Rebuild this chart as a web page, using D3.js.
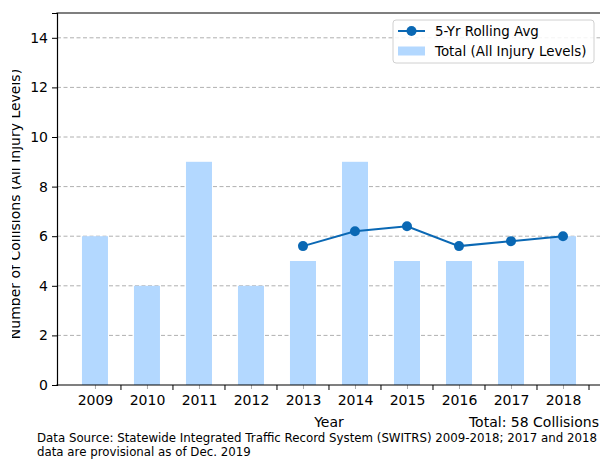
<!DOCTYPE html>
<html><head><meta charset="utf-8">
<script src="https://cdn.jsdelivr.net/npm/d3@7"></script>
<style>body{margin:0;background:#fff}svg{display:block;font-family:"DejaVu Sans",sans-serif}</style>
</head><body>
<svg id="c" width="600" height="460"></svg>
<script>
const years = ["2009","2010","2011","2012","2013","2014","2015","2016","2017","2018"];
const totals = [6,4,9,4,5,9,5,5,5,6];
const avgYears = ["2013","2014","2015","2016","2017","2018"];
const rollingAvg = [5.6,6.2,6.4,5.6,5.8,6.0];
const yTicks = [0,2,4,6,8,10,12,14];

const svg = d3.select("#c");
const barColor = "#b3d8ff", lineColor = "#0a68b4";
const x = d3.scaleLinear().domain([-0.73, 9.5]).range([57, 589]);
const y = d3.scaleLinear().domain([0, 15]).range([385, 13]);
const idx = s => years.indexOf(s);
const bw = x(0.25) - x(-0.25);

// grid
svg.append("g").selectAll("line").data(yTicks.filter(d => d > 0)).join("line")
  .attr("x1", 57).attr("x2", 620).attr("y1", d => y(d)).attr("y2", d => y(d))
  .attr("stroke", "#b0b0b0").attr("stroke-width", 1).attr("stroke-dasharray", "4,2.5");

// bars
svg.append("g").selectAll("rect").data(totals).join("rect")
  .attr("x", (d, i) => x(i) - bw / 2).attr("width", bw)
  .attr("y", d => y(d)).attr("height", d => y(0) - y(d))
  .attr("fill", barColor);

// line
const line = d3.line().x((d, i) => x(idx(avgYears[i]))).y(d => y(d));
svg.append("path").datum(rollingAvg).attr("d", line)
  .attr("fill", "none").attr("stroke", lineColor).attr("stroke-width", 2);
svg.append("g").selectAll("circle").data(rollingAvg).join("circle")
  .attr("cx", (d, i) => x(idx(avgYears[i]))).attr("cy", d => y(d)).attr("r", 5)
  .attr("fill", lineColor);

// y axis
const yAxis = svg.append("g").attr("transform", "translate(57,0)")
  .call(d3.axisLeft(y).tickValues(yTicks).tickSize(5).tickPadding(4));
yAxis.select(".domain").attr("stroke", "#000").attr("stroke-width", 1.2);
yAxis.selectAll("text").attr("font-size", 14).attr("fill", "#000").attr("font-family", "DejaVu Sans");
yAxis.selectAll(".tick line").attr("stroke", "#000");

// x axis: light ticks at centers with labels
const xAxis = svg.append("g").attr("transform", "translate(0,385)")
  .call(d3.axisBottom(x).tickValues(d3.range(years.length)).tickFormat(i => years[i]).tickSize(4).tickPadding(6));
xAxis.select(".domain").remove();
xAxis.selectAll(".tick line").attr("stroke", "#aaaaaa");
xAxis.selectAll("text").attr("font-size", 14).attr("fill", "#000").attr("font-family", "DejaVu Sans");
// black ticks at band boundaries
svg.append("g").selectAll("line").data(d3.range(years.length)).join("line")
  .attr("x1", i => x(i + 0.5)).attr("x2", i => x(i + 0.5)).attr("y1", 385).attr("y2", 390)
  .attr("stroke", "#000").attr("stroke-width", 1);

// spines
svg.append("line").attr("x1", 56.4).attr("x2", 620).attr("y1", 385).attr("y2", 385).attr("stroke", "#000").attr("stroke-width", 1.2);
svg.append("line").attr("x1", 56.4).attr("x2", 620).attr("y1", 13).attr("y2", 13).attr("stroke", "#000").attr("stroke-width", 1.2);

// y label (clipped at left)
svg.append("clipPath").attr("id", "yl").append("rect").attr("x", 12).attr("y", 0).attr("width", 30).attr("height", 460);
svg.append("g").attr("clip-path", "url(#yl)").append("text")
  .attr("transform", "translate(20,204) rotate(-90)").attr("text-anchor", "middle")
  .attr("font-size", 14).text("Number of Collisions (All Injury Levels)");

// x label and totals
svg.append("text").attr("x", 329).attr("y", 427).attr("text-anchor", "middle").attr("font-size", 14).text("Year");
svg.append("text").attr("x", 599).attr("y", 427).attr("text-anchor", "end").attr("font-size", 14).text("Total: 58 Collisions");
svg.append("text").attr("x", 37).attr("y", 442).attr("font-size", 11.8).text("Data Source: Statewide Integrated Traffic Record System (SWITRS) 2009-2018; 2017 and 2018");
svg.append("text").attr("x", 37).attr("y", 456).attr("font-size", 11.8).text("data are provisional as of Dec. 2019");

// legend
const lg = svg.append("g");
lg.append("rect").attr("x", 393).attr("y", 20).attr("width", 201).attr("height", 43).attr("rx", 3)
  .attr("fill", "#fff").attr("fill-opacity", 0.85).attr("stroke", "#d0d0d0");
lg.append("line").attr("x1", 398).attr("x2", 425).attr("y1", 31).attr("y2", 31).attr("stroke", lineColor).attr("stroke-width", 2);
lg.append("circle").attr("cx", 411.5).attr("cy", 31).attr("r", 5).attr("fill", lineColor);
lg.append("rect").attr("x", 398).attr("y", 46.5).attr("width", 27).attr("height", 9).attr("fill", barColor);
lg.append("text").attr("x", 435).attr("y", 36).attr("font-size", 13.4).text("5-Yr Rolling Avg");
lg.append("text").attr("x", 435).attr("y", 55.5).attr("font-size", 13.4).text("Total (All Injury Levels)");
</script>
</body></html>
